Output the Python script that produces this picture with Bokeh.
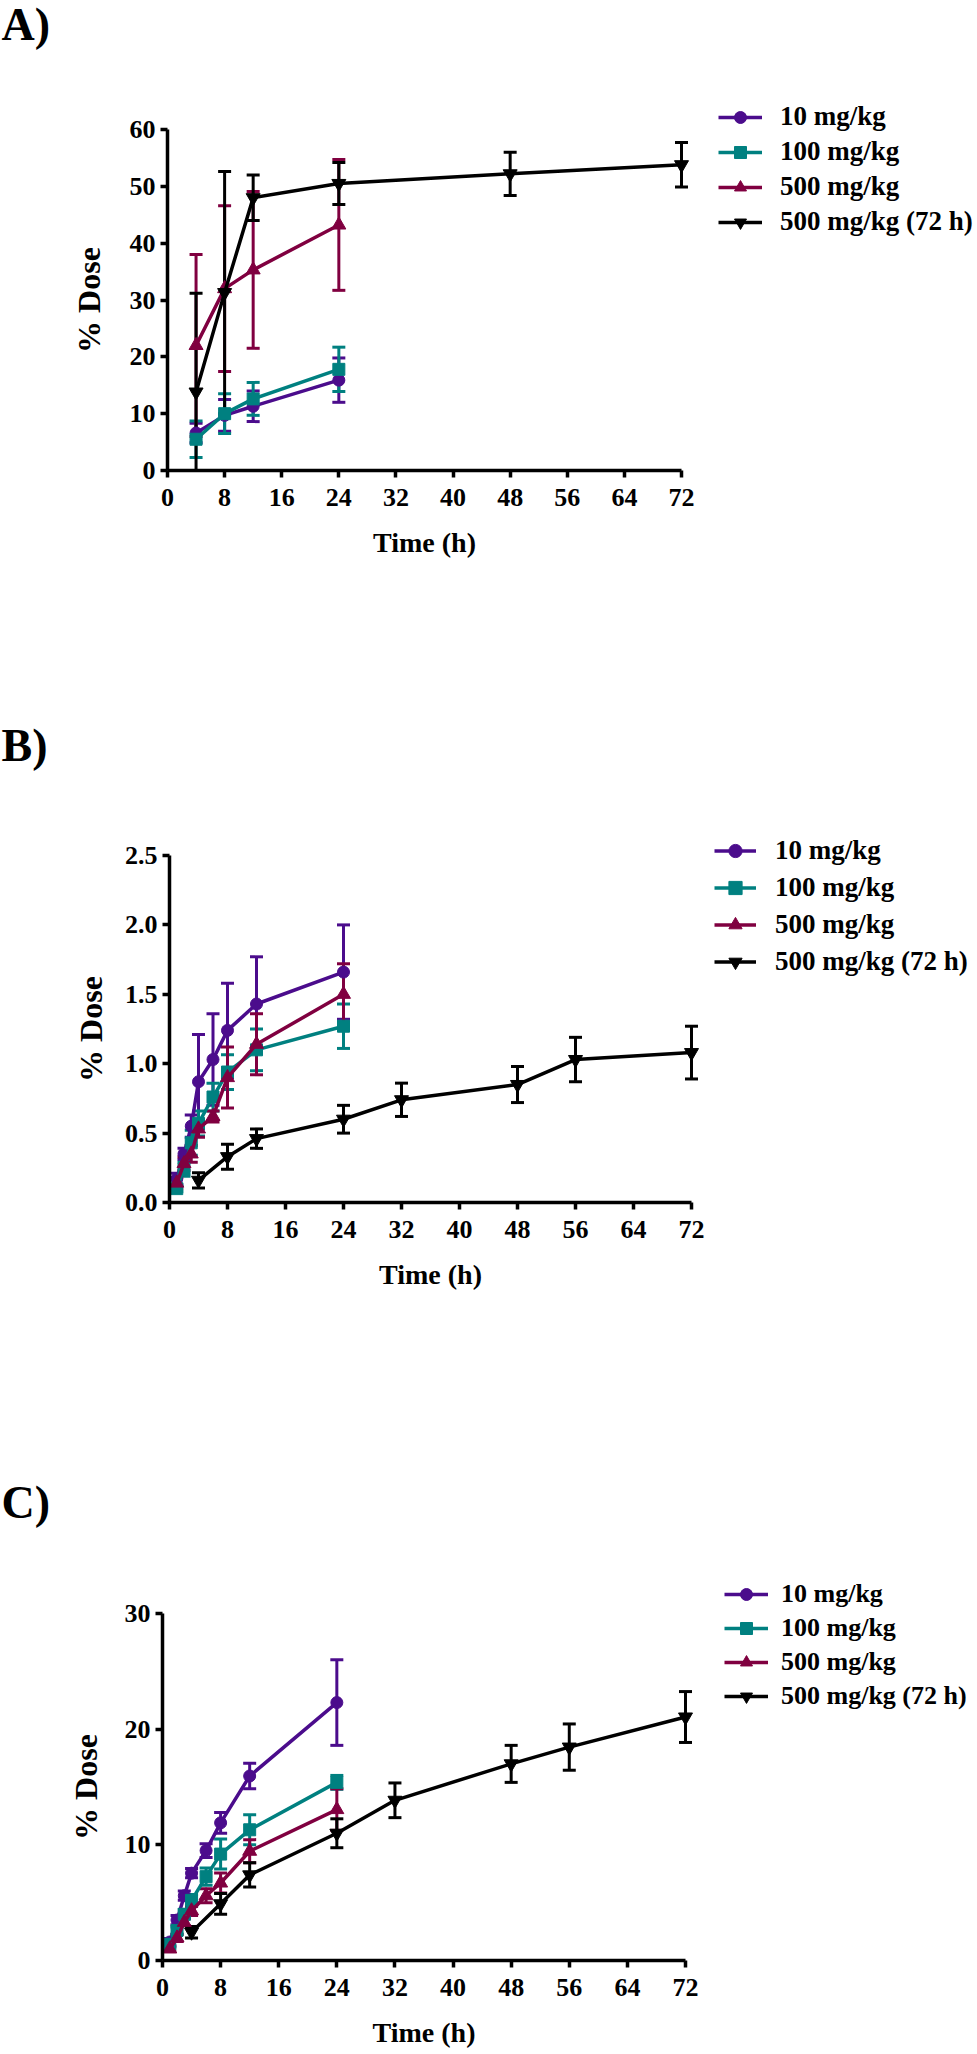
from bokeh.plotting import figure
from bokeh.models import (ColumnDataSource, Whisker, TeeHead, Range1d, FixedTicker,
                          Legend, LegendItem, Label, NumeralTickFormatter)
from bokeh.layouts import column
from bokeh.embed import file_html
from bokeh.resources import INLINE

FONT = "Liberation Serif"

# ---------------- data ----------------
series_labels = ["10 mg/kg", "100 mg/kg", "500 mg/kg", "500 mg/kg (72 h)"]
colors = ["#4B0C8C", "#008080", "#800040", "#000000"]
markers = ["circle", "square", "triangle", "inverted_triangle"]
x_ticks = [0, 8, 16, 24, 32, 40, 48, 56, 64, 72]

# Panel A
a_time = [4, 8, 12, 24]
a_time_72 = [4, 8, 12, 24, 48, 72]
a_10 = [6.6, 9.7, 11.3, 15.9]
a_10_err = [1.7, 2.8, 2.7, 3.9]
a_100 = [5.5, 10.0, 12.6, 17.8]
a_100_err = [3.2, 3.5, 2.9, 3.9]
a_500 = [22.0, 32.0, 35.3, 43.2]
a_500_err = [16.0, 14.6, 13.8, 11.5]
a_500_72 = [13.8, 31.3, 48.0, 50.5, 52.2, 53.8]
a_500_72_err = [17.4, 21.3, 4.0, 3.7, 3.8, 3.9]
a_y_ticks = [0, 10, 20, 30, 40, 50, 60]

# Panel B
b_time = [1, 2, 3, 4, 6, 8, 12, 24]
b_time_72 = [4, 8, 12, 24, 32, 48, 56, 72]
b_10 = [0.17, 0.35, 0.55, 0.87, 1.03, 1.24, 1.43, 1.66]
b_10_err = [0.04, 0.04, 0.08, 0.34, 0.33, 0.34, 0.34, 0.34]
b_100 = [0.10, 0.24, 0.43, 0.57, 0.76, 0.94, 1.10, 1.27]
b_100_err = [0.02, 0.05, 0.09, 0.09, 0.10, 0.125, 0.15, 0.16]
b_500 = [0.14, 0.28, 0.35, 0.53, 0.62, 0.90, 1.14, 1.50]
b_500_err = [0.04, 0.05, 0.06, 0.06, 0.04, 0.22, 0.22, 0.22]
b_500_72 = [0.16, 0.33, 0.46, 0.60, 0.74, 0.85, 1.03, 1.08]
b_500_72_err = [0.055, 0.09, 0.07, 0.10, 0.12, 0.13, 0.16, 0.19]
b_y_ticks = [0.0, 0.5, 1.0, 1.5, 2.0, 2.5]

# Panel C
c_time = [1, 2, 3, 4, 6, 8, 12, 24]
c_time_72 = [4, 8, 12, 24, 32, 48, 56, 72]
c_10 = [1.6, 3.5, 5.6, 7.55, 9.5, 11.9, 15.95, 22.3]
c_10_err = [0.3, 0.4, 0.4, 0.4, 0.6, 0.9, 1.1, 3.7]
c_100 = [1.4, 2.6, 4.0, 5.2, 7.25, 9.2, 11.3, 15.4]
c_100_err = [0.3, 0.3, 0.4, 0.5, 0.75, 1.3, 1.3, 0.6]
c_500 = [1.0, 1.95, 3.3, 4.3, 5.6, 6.7, 9.45, 13.05]
c_500_err = [0.2, 0.3, 0.3, 0.4, 0.6, 0.87, 1.0, 1.8]
c_500_72 = [2.45, 4.9, 7.4, 11.0, 13.85, 17.0, 18.45, 21.05]
c_500_72_err = [0.5, 0.9, 1.05, 1.25, 1.5, 1.6, 2.0, 2.2]
c_y_ticks = [0, 10, 20, 30]

W = 977


def make_panel(letter, letter_mid_px, fig_h, x0_px, x72_px, y0_px, ytop_px, y_top,
               y_ticks, y_fmt, series, ylab_standoff,
               leg_left_px, leg_first_center_px, glyph_w, label_standoff, glyph_h, spacing,
               leg_font="27px"):
    # pixel geometry -> ranges (the frame covers the whole canvas)
    sx = (x72_px - x0_px) / 72.0
    sy = (y0_px - ytop_px) / float(y_top)
    x_start = -x0_px / sx
    x_end = (W - x0_px) / sx
    y_start = -(fig_h - y0_px) / sy
    y_end = y0_px / sy

    def px_x(px):
        return x_start + px / sx

    def px_y(py):
        return y_end - py / sy

    p = figure(width=W, height=fig_h, output_backend="svg", toolbar_location=None,
               x_range=Range1d(x_start, x_end), y_range=Range1d(y_start, y_end),
               min_border_left=0, min_border_right=0,
               min_border_top=0, min_border_bottom=0)
    p.title.visible = False
    p.outline_line_color = None
    p.xgrid.visible = False
    p.ygrid.visible = False
    p.background_fill_color = "white"
    p.border_fill_color = "white"

    p.xaxis.fixed_location = 0
    p.yaxis.fixed_location = 0
    p.xaxis.ticker = FixedTicker(ticks=x_ticks)
    p.yaxis.ticker = FixedTicker(ticks=y_ticks)
    p.xaxis.bounds = (0, 72)
    p.yaxis.bounds = (0, y_top)
    if y_fmt:
        p.yaxis.formatter = NumeralTickFormatter(format=y_fmt)
    p.xaxis.axis_label = "Time (h)"
    p.yaxis.axis_label = "% Dose"
    for ax in (p.xaxis[0], p.yaxis[0]):
        ax.axis_line_width = 3.5
        ax.axis_line_color = "black"
        ax.major_tick_line_width = 3.5
        ax.major_tick_line_color = "black"
        ax.major_tick_out = 7
        ax.major_tick_in = 0
        ax.minor_tick_out = 0
        ax.minor_tick_in = 0
        ax.major_label_text_font = FONT
        ax.major_label_text_font_size = "26px"
        ax.major_label_text_font_style = "bold"
        ax.major_label_text_color = "black"
        ax.axis_label_text_font = FONT
        ax.axis_label_text_font_style = "bold"
        ax.axis_label_text_color = "black"
    p.xaxis.major_label_standoff = 11
    p.yaxis.major_label_standoff = 5
    p.xaxis.axis_label_text_font_size = "28px"
    p.yaxis.axis_label_text_font_size = "32px"
    p.xaxis.axis_label_standoff = 18
    p.yaxis.axis_label_standoff = ylab_standoff

    items = []
    for (t, v, e), lab, c, m in zip(series, series_labels, colors, markers):
        src = ColumnDataSource(dict(x=t, y=v,
                                    upper=[a + b for a, b in zip(v, e)],
                                    lower=[max(0.0, a - b) for a, b in zip(v, e)]))
        w = Whisker(source=src, base="x", upper="upper", lower="lower",
                    line_color=c, line_width=3,
                    upper_head=TeeHead(size=13, line_color=c, line_width=3),
                    lower_head=TeeHead(size=13, line_color=c, line_width=3))
        p.add_layout(w)
        lr = p.line("x", "y", source=src, line_color=c, line_width=3.5)
        size = 12 if m in ("circle", "square") else 14
        sr = p.scatter("x", "y", source=src, marker=m, size=size,
                       fill_color=c, line_color=c)
        items.append(LegendItem(label=lab, renderers=[lr, sr]))

    n = len(items)
    leg_h = n * glyph_h + (n - 1) * spacing
    leg_top = leg_first_center_px - glyph_h / 2.0
    leg_bottom = leg_top + leg_h
    leg = Legend(items=items, location=(leg_left_px, fig_h - leg_bottom),
                 glyph_width=glyph_w, glyph_height=glyph_h, label_height=glyph_h,
                 spacing=spacing, padding=0, margin=0, label_standoff=label_standoff,
                 border_line_color=None, background_fill_alpha=0,
                 label_text_font=FONT, label_text_font_size=leg_font,
                 label_text_font_style="bold", label_text_color="black")
    p.add_layout(leg)

    p.add_layout(Label(x=px_x(1), y=px_y(letter_mid_px),
                       text=letter, text_font=FONT, text_font_size="46px",
                       text_font_style="bold", text_color="black",
                       text_baseline="middle"))
    return p


pa = make_panel("A)", 24, 640, 167, 681, 470, 129, 60, a_y_ticks, None,
                [(a_time, a_10, a_10_err), (a_time, a_100, a_100_err),
                 (a_time, a_500, a_500_err), (a_time_72, a_500_72, a_500_72_err)],
                20, 718, 120, 44, 18, 30, 4)
pb = make_panel("B)", 105, 760, 169, 691, 562, 215, 2.5, b_y_ticks, "0.0",
                [(b_time, b_10, b_10_err), (b_time, b_100, b_100_err),
                 (b_time, b_500, b_500_err), (b_time_72, b_500_72, b_500_72_err)],
                13, 714, 210, 42, 19, 33, 4)
pc = make_panel("C)", 102, 650, 162, 685, 560, 213, 30, c_y_ticks, None,
                [(c_time, c_10, c_10_err), (c_time, c_100, c_100_err),
                 (c_time, c_500, c_500_err), (c_time_72, c_500_72, c_500_72_err)],
                18, 724, 194, 44, 13, 30, 4, leg_font="26px")

layout = column(pa, pb, pc)
open("out.html", "w").write(file_html(layout, INLINE))
